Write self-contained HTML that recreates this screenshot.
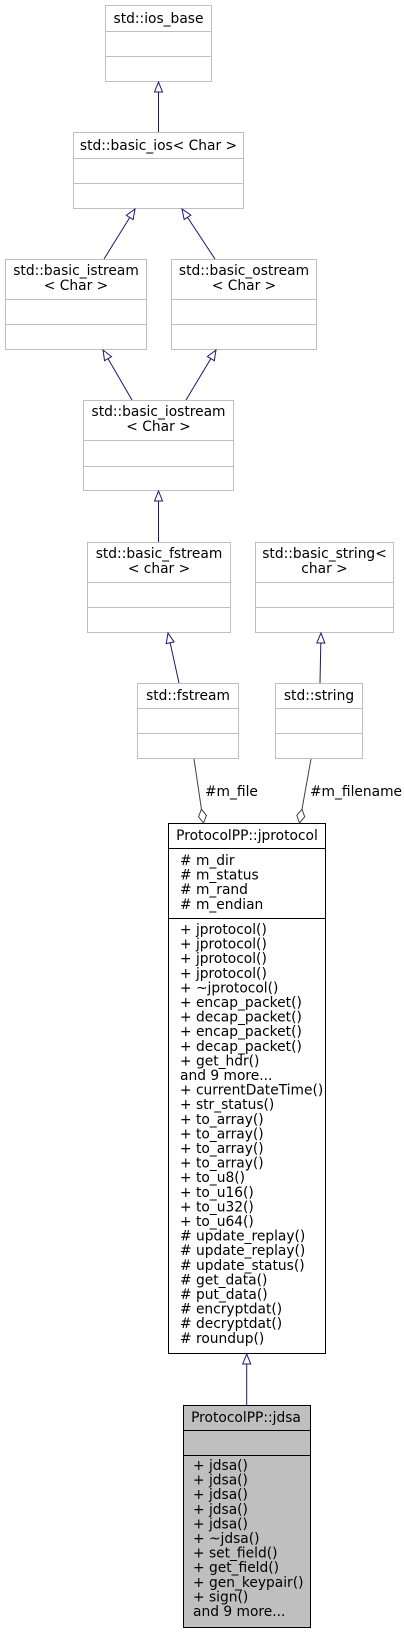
<!DOCTYPE html>
<html><head><meta charset="utf-8"><style>
html,body{margin:0;padding:0;background:#fff}
svg{display:block}
text{font-family:"DejaVu Sans","Liberation Sans",sans-serif;font-size:13.8px;fill:#000}
.g{fill:#fff;stroke:#bfbfbf;stroke-width:1}
.gl{stroke:#bfbfbf;stroke-width:1}
.b{fill:#fff;stroke:#000;stroke-width:1}
.bl{stroke:#000;stroke-width:1}
.e{stroke:#191970;stroke-width:1;fill:none}
.c{text-anchor:middle}
</style></head><body>
<svg width="404" height="1633" viewBox="0 0 404 1633" xmlns="http://www.w3.org/2000/svg">
<defs>
<marker id="tri" markerWidth="12" markerHeight="10" refX="11" refY="5" orient="auto" markerUnits="userSpaceOnUse">
<path d="M1,1 L11,5 L1,9 Z" fill="#fff" stroke="#191970" stroke-width="1"/>
</marker>
<marker id="dia" markerWidth="16" markerHeight="10" refX="15" refY="5" orient="auto" markerUnits="userSpaceOnUse">
<path d="M1,5 L8,1 L15,5 L8,9 Z" fill="#fff" stroke="#404040" stroke-width="1"/>
</marker>
</defs>

<rect class="g" x="105.5" y="5.5" width="106" height="76"/>
<line class="gl" x1="105.5" y1="31.5" x2="211.5" y2="31.5"/>
<line class="gl" x1="105.5" y1="56.5" x2="211.5" y2="56.5"/>
<text class="c" x="158.5" y="23">std::ios_base</text>

<rect class="g" x="73.5" y="132.5" width="170" height="76"/>
<line class="gl" x1="73.5" y1="158.5" x2="243.5" y2="158.5"/>
<line class="gl" x1="73.5" y1="183.5" x2="243.5" y2="183.5"/>
<text class="c" x="158.5" y="150">std::basic_ios&lt; Char &gt;</text>

<rect class="g" x="5.5" y="259.5" width="141" height="90"/>
<line class="gl" x1="5.5" y1="299.5" x2="146.5" y2="299.5"/>
<line class="gl" x1="5.5" y1="324.5" x2="146.5" y2="324.5"/>
<text class="c" x="76" y="275">std::basic_istream</text>
<text class="c" x="76" y="290">&lt; Char &gt;</text>

<rect class="g" x="171.5" y="259.5" width="145" height="90"/>
<line class="gl" x1="171.5" y1="299.5" x2="316.5" y2="299.5"/>
<line class="gl" x1="171.5" y1="324.5" x2="316.5" y2="324.5"/>
<text class="c" x="244" y="275">std::basic_ostream</text>
<text class="c" x="244" y="290">&lt; Char &gt;</text>

<rect class="g" x="83.5" y="400.5" width="150" height="90"/>
<line class="gl" x1="83.5" y1="440.5" x2="233.5" y2="440.5"/>
<line class="gl" x1="83.5" y1="466.5" x2="233.5" y2="466.5"/>
<text class="c" x="158.5" y="416">std::basic_iostream</text>
<text class="c" x="158.5" y="431">&lt; Char &gt;</text>

<rect class="g" x="87.5" y="542.5" width="143" height="90"/>
<line class="gl" x1="87.5" y1="582.5" x2="230.5" y2="582.5"/>
<line class="gl" x1="87.5" y1="607.5" x2="230.5" y2="607.5"/>
<text class="c" x="159" y="558">std::basic_fstream</text>
<text class="c" x="159" y="573">&lt; char &gt;</text>

<rect class="g" x="255.5" y="542.5" width="138" height="90"/>
<line class="gl" x1="255.5" y1="582.5" x2="393.5" y2="582.5"/>
<line class="gl" x1="255.5" y1="607.5" x2="393.5" y2="607.5"/>
<text class="c" x="324.5" y="558">std::basic_string&lt;</text>
<text class="c" x="324.5" y="573">char &gt;</text>

<rect class="g" x="137.5" y="683.5" width="101" height="75"/>
<line class="gl" x1="137.5" y1="708.5" x2="238.5" y2="708.5"/>
<line class="gl" x1="137.5" y1="733.5" x2="238.5" y2="733.5"/>
<text class="c" x="188" y="700">std::fstream</text>

<rect class="g" x="275.5" y="683.5" width="87" height="75"/>
<line class="gl" x1="275.5" y1="708.5" x2="362.5" y2="708.5"/>
<line class="gl" x1="275.5" y1="733.5" x2="362.5" y2="733.5"/>
<text class="c" x="319" y="700">std::string</text>

<rect class="b" x="168.5" y="823.5" width="157" height="530"/>
<line class="bl" x1="168.5" y1="848.5" x2="325.5" y2="848.5"/>
<line class="bl" x1="168.5" y1="918.5" x2="325.5" y2="918.5"/>
<text class="c" x="247" y="840">ProtocolPP::jprotocol</text>
<g>
<text x="180" y="865"># m_dir</text>
<text x="180" y="879.6"># m_status</text>
<text x="180" y="894.2"># m_rand</text>
<text x="180" y="908.8"># m_endian</text>
</g>
<g>
<text x="180" y="934">+ jprotocol()</text>
<text x="180" y="948.6">+ jprotocol()</text>
<text x="180" y="963.2">+ jprotocol()</text>
<text x="180" y="977.8">+ jprotocol()</text>
<text x="180" y="992.4">+ ~jprotocol()</text>
<text x="180" y="1007">+ encap_packet()</text>
<text x="180" y="1021.6">+ decap_packet()</text>
<text x="180" y="1036.2">+ encap_packet()</text>
<text x="180" y="1050.8">+ decap_packet()</text>
<text x="180" y="1065.4">+ get_hdr()</text>
<text x="180" y="1080">and 9 more...</text>
<text x="180" y="1094.6">+ currentDateTime()</text>
<text x="180" y="1109.2">+ str_status()</text>
<text x="180" y="1123.8">+ to_array()</text>
<text x="180" y="1138.4">+ to_array()</text>
<text x="180" y="1153">+ to_array()</text>
<text x="180" y="1167.6">+ to_array()</text>
<text x="180" y="1182.2">+ to_u8()</text>
<text x="180" y="1196.8">+ to_u16()</text>
<text x="180" y="1211.4">+ to_u32()</text>
<text x="180" y="1226">+ to_u64()</text>
<text x="180" y="1240.6"># update_replay()</text>
<text x="180" y="1255.2"># update_replay()</text>
<text x="180" y="1269.8"># update_status()</text>
<text x="180" y="1284.4"># get_data()</text>
<text x="180" y="1299"># put_data()</text>
<text x="180" y="1313.6"># encryptdat()</text>
<text x="180" y="1328.2"># decryptdat()</text>
<text x="180" y="1342.8"># roundup()</text>
</g>

<rect x="183.5" y="1405.5" width="127" height="222" fill="#bfbfbf" stroke="#000"/>
<line class="bl" x1="183.5" y1="1430.5" x2="310.5" y2="1430.5"/>
<line class="bl" x1="183.5" y1="1455.5" x2="310.5" y2="1455.5"/>
<text class="c" x="246" y="1422">ProtocolPP::jdsa</text>
<g>
<text x="193" y="1470">+ jdsa()</text>
<text x="193" y="1484.6">+ jdsa()</text>
<text x="193" y="1499.2">+ jdsa()</text>
<text x="193" y="1513.8">+ jdsa()</text>
<text x="193" y="1528.4">+ jdsa()</text>
<text x="193" y="1543">+ ~jdsa()</text>
<text x="193" y="1557.6">+ set_field()</text>
<text x="193" y="1572.2">+ get_field()</text>
<text x="193" y="1586.8">+ gen_keypair()</text>
<text x="193" y="1601.4">+ sign()</text>
<text x="193" y="1616">and 9 more...</text>
</g>

<line class="e" x1="158.5" y1="132" x2="158.5" y2="82" marker-end="url(#tri)"/>
<line class="e" x1="104" y1="259" x2="135" y2="209" marker-end="url(#tri)"/>
<line class="e" x1="215" y1="259" x2="182" y2="209" marker-end="url(#tri)"/>
<line class="e" x1="132" y1="400" x2="103" y2="350" marker-end="url(#tri)"/>
<line class="e" x1="186" y1="400" x2="216" y2="350" marker-end="url(#tri)"/>
<line class="e" x1="158.5" y1="542" x2="158.5" y2="491" marker-end="url(#tri)"/>
<line class="e" x1="179" y1="683" x2="168" y2="633" marker-end="url(#tri)"/>
<line class="e" x1="320" y1="683" x2="321" y2="633" marker-end="url(#tri)"/>
<line class="e" x1="246.7" y1="1405" x2="246.7" y2="1354" marker-end="url(#tri)"/>

<line x1="194" y1="759" x2="203.5" y2="823" stroke="#404040" stroke-width="1" marker-end="url(#dia)"/>
<line x1="311" y1="759" x2="299.5" y2="823" stroke="#404040" stroke-width="1" marker-end="url(#dia)"/>
<text x="205" y="796">#m_file</text>
<text x="310" y="796">#m_filename</text>
</svg>
</body></html>
